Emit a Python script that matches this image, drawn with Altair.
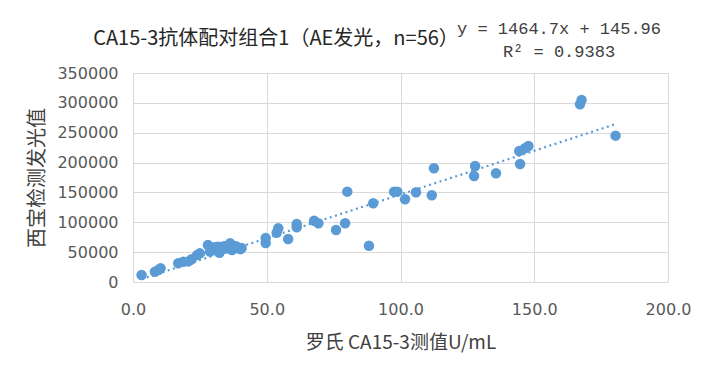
import altair as alt
import pandas as pd

# ---- data ----
roche_x = [
    3.2, 8.2, 9.5, 10.3, 16.9, 18.8, 20.7, 21.9, 24.0, 25.0,
    28.0, 28.8, 29.5, 30.5, 31.9, 32.3, 33.0, 34.0, 35.0, 36.3,
    37.0, 37.8, 38.5, 39.4, 40.2, 40.6,
    49.6, 49.6, 54.3, 53.7, 58.0, 61.2, 61.2, 67.7, 69.3, 75.9,
    79.3, 80.1, 88.2, 89.8,
    97.6, 98.8, 101.7, 105.8, 111.7, 112.5, 127.9, 127.5, 135.7, 144.7,
    144.4, 146.5, 147.8, 167.7, 167.1, 180.4,
]
xibao_y = [
    11700, 17300, 20100, 22900, 31300, 34000, 34500, 38000, 45200, 48000,
    62000, 51000, 55000, 58000, 59000, 49000, 54000, 60000, 56000, 64800,
    53600, 58000, 60000, 56400, 55000, 57000,
    73700, 65300, 90000, 82600, 72000, 97100, 91600, 102700, 98300, 87100,
    98300, 151300, 60800, 131800,
    151300, 151300, 138500, 150200, 145200, 190400, 194300, 177500, 182000, 197700,
    219400, 224000, 227800, 304900, 297600, 245100,
]
slope = 1464.7
intercept = 145.96
r_squared = 0.9383

title_text = "CA15-3抗体配对组合1（AE发光，n=56）"
eq_lines = ["y = 1464.7x + 145.96", "R² = 0.9383"]
x_title = "罗氏 CA15-3测值U/mL"
y_title = "西宝检测发光值"
x_ticks = [0, 50, 100, 150, 200]
y_ticks = [0, 50000, 100000, 150000, 200000, 250000, 300000, 350000]

# ---- tables ----
pts = pd.DataFrame({"x": roche_x, "y": xibao_y})
xmin, xmax = min(roche_x), max(roche_x)
trend = pd.DataFrame({"x": [xmin, xmax], "y": [slope * xmin + intercept, slope * xmax + intercept]})

BLUE = "#5B9BD5"
GRID = "#d9d9d9"
LABEL = "#595959"
CJK = "Noto Sans CJK SC"

W, H = 535, 209

xscale = alt.Scale(domain=[0, 200], nice=False, zero=False)
yscale = alt.Scale(domain=[0, 350000], nice=False)

xaxis = alt.Axis(
    values=x_ticks, format=".1f", title=x_title, grid=True, gridColor=GRID,
    domain=False, ticks=False, tickSize=0, labelPadding=27, labelBaseline="middle",
    labelFlush=False, labelOverlap=False,
    labelFont="DejaVu Sans", labelFontSize=16, labelColor=LABEL,
    titleFont=CJK, titleFontSize=19, titleFontWeight="normal", titleColor="#404040",
    titleX=W / 2, titleY=60, titleBaseline="middle", titleAlign="center",
)
yaxis = alt.Axis(
    values=y_ticks, format="d", title=y_title, grid=True, gridColor=GRID,
    domain=False, ticks=False, tickSize=0, labelPadding=15,
    labelFlush=False, labelOverlap=False,
    labelFont="DejaVu Sans", labelFontSize=16, labelColor=LABEL,
    titleFont=CJK, titleFontSize=20, titleFontWeight="normal", titleColor="#404040",
    titleX=-96, titleY=H / 2, titleAngle=270, titleBaseline="middle", titleAlign="center",
)

points = alt.Chart(pts).mark_circle(size=110, color=BLUE, opacity=1).encode(
    x=alt.X("x:Q", scale=xscale, axis=xaxis),
    y=alt.Y("y:Q", scale=yscale, axis=yaxis),
)

line = alt.Chart(trend).mark_line(color=BLUE, strokeWidth=2.2, strokeDash=[2, 3.5]).encode(
    x=alt.X("x:Q", scale=xscale, axis=xaxis),
    y=alt.Y("y:Q", scale=yscale, axis=yaxis),
)

title = alt.Chart(pd.DataFrame({"t": [title_text]})).mark_text(
    font=CJK, fontSize=20, color="#262626", align="center", baseline="middle"
).encode(text="t:N", x=alt.value(143), y=alt.value(-34))

eq1 = alt.Chart(pd.DataFrame({"t": [eq_lines[0]]})).mark_text(
    font="Liberation Mono", fontSize=17, color="#404040", align="center", baseline="middle"
).encode(text="t:N", x=alt.value(426), y=alt.value(-44))

eq2 = alt.Chart(pd.DataFrame({"t": [eq_lines[1]]})).mark_text(
    font="Liberation Mono", fontSize=17, color="#404040", align="center", baseline="middle"
).encode(text="t:N", x=alt.value(426), y=alt.value(-21))

chart = (
    alt.layer(points, line, title, eq1, eq2)
    .properties(
        width=W, height=H,
        autosize=alt.AutoSizeParams(type="none"),
        padding={"left": 125, "top": 65, "right": 28, "bottom": 90},
        background="white",
    )
    .configure_view(stroke=None)
)

chart.save("out.html", embed_options={"renderer": "svg", "actions": False})
